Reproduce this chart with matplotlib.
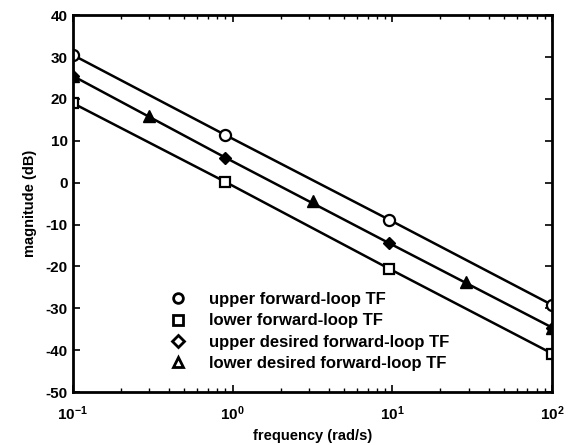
import numpy as np
import matplotlib
matplotlib.use("Agg")
import matplotlib.pyplot as plt
from matplotlib.lines import Line2D
from matplotlib.ticker import LogLocator, NullFormatter

plt.rcParams['font.family'] = ['Liberation Sans', 'DejaVu Sans']
plt.rcParams['font.weight'] = 'bold'
plt.rcParams['axes.unicode_minus'] = False

# values
upper_f = [0.1, 0.9, 9.5, 100]
upper_m = [30.5, 11.4, -8.8, -29.2]
lower_f = [0.1, 0.9, 9.5, 100]
lower_m = [19.0, 0.2, -20.5, -40.8]
udes_f = [0.1, 0.9, 9.5, 100]
udes_m = [25.5, 6.0, -14.4, -34.6]
ldes_f = [0.1, 0.3, 3.2, 28.9, 100]
ldes_m = [25.5, 16.0, -4.4, -23.7, -34.6]

labels = ['upper forward-loop TF', 'lower forward-loop TF',
          'upper desired forward-loop TF', 'lower desired forward-loop TF']

fig = plt.figure(figsize=(5.68, 4.45), dpi=100)
ax = fig.add_axes([0.128, 0.119, 0.844, 0.847])

ax.semilogx(upper_f, upper_m, 'k-', lw=1.8, marker='o', ms=8, mfc='white', mec='k', mew=1.6)
ax.semilogx(lower_f, lower_m, 'k-', lw=1.8, marker='s', ms=7, mfc='white', mec='k', mew=1.6)
ax.semilogx(udes_f, udes_m, 'k-', lw=1.8, marker='D', ms=6, mfc='k', mec='k')
ax.semilogx(ldes_f, ldes_m, 'k-', lw=1.8, marker='^', ms=9, mfc='k', mec='k', ls='none')

ax.set_xlim(0.1, 100)
ax.set_ylim(-50, 40)
ax.set_yticks(np.arange(-50, 41, 10))
ax.xaxis.set_minor_locator(LogLocator(base=10, subs=np.arange(2, 10)))
ax.xaxis.set_minor_formatter(NullFormatter())
ax.tick_params(which='both', direction='in', top=True, right=True, labelsize=11)
ax.tick_params(which='major', length=5, width=1.2)
ax.tick_params(axis='x', which='major', pad=9)
ax.tick_params(which='minor', length=3, width=1)
for s in ax.spines.values():
    s.set_linewidth(2)

ax.set_xlabel('frequency (rad/s)', fontsize=10.5, fontweight='bold', labelpad=4)
ax.set_ylabel('magnitude (dB)', fontsize=10.5, fontweight='bold', labelpad=6)

handles = [
    Line2D([], [], ls='none', marker='o', ms=7, mfc='white', mec='k', mew=2),
    Line2D([], [], ls='none', marker='s', ms=7, mfc='white', mec='k', mew=2),
    Line2D([], [], ls='none', marker='D', ms=6, mfc='white', mec='k', mew=2),
    Line2D([], [], ls='none', marker='^', ms=7, mfc='white', mec='k', mew=2),
]
ax.legend(handles, labels, loc='upper left', bbox_to_anchor=(0.17, 0.305),
          frameon=False, handlelength=1.0, handletextpad=1.4,
          labelspacing=0.38, prop={'weight': 'bold', 'size': 12})

fig.savefig('out.png', dpi=100)
